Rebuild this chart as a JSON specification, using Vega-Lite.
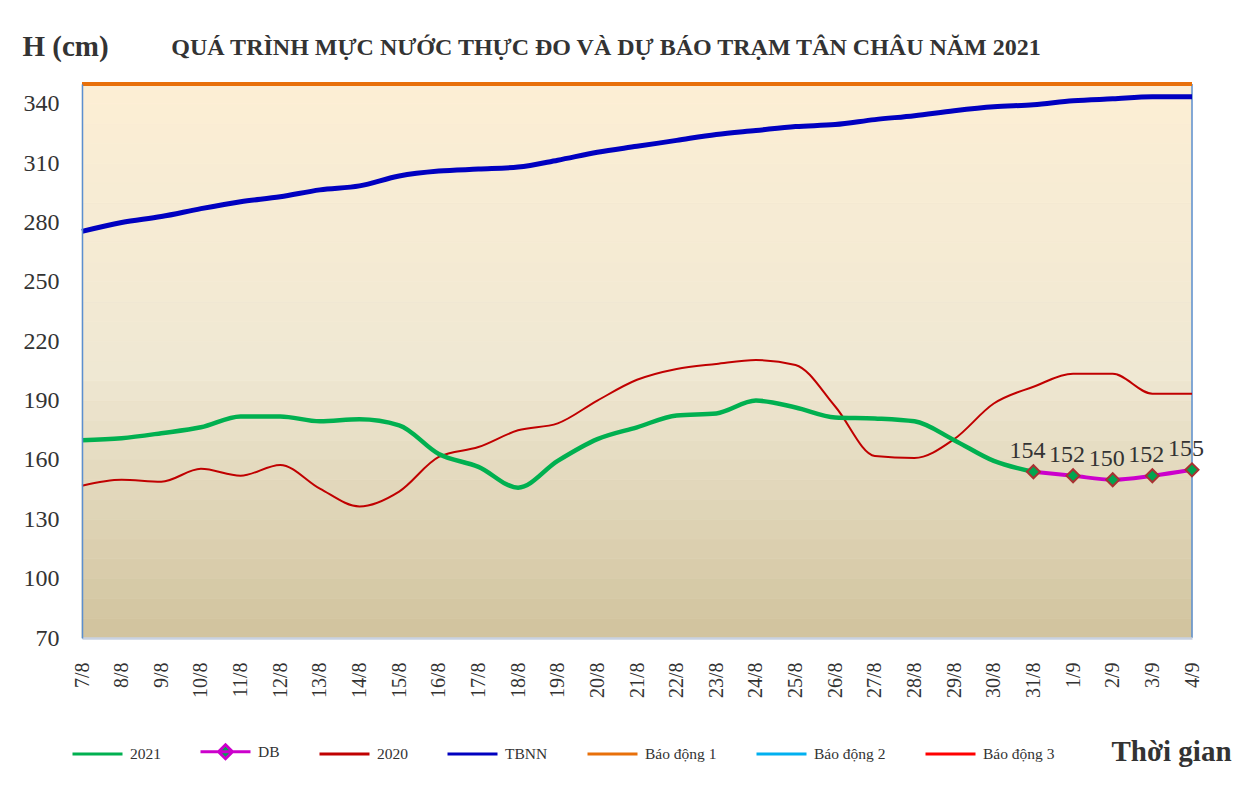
{
  "$schema": "https://vega.github.io/schema/vega-lite/v6.json",
  "width": 1110,
  "height": 554,
  "autosize": "none",
  "padding": {"left": 82, "top": 84, "right": 49, "bottom": 160},
  "background": "white",
  "config": {
    "font": "Liberation Serif",
    "view": {"stroke": null}
  },
  "title": {
    "text": "QUÁ TRÌNH MỰC NƯỚC THỰC ĐO VÀ DỰ BÁO TRẠM TÂN CHÂU NĂM 2021",
    "font": "Liberation Serif",
    "fontSize": 24,
    "fontWeight": "bold",
    "color": "#333333",
    "anchor": "middle",
    "dx": -31,
    "offset": -28
  },
  "datasets": {
    "levels": [
      {"date": "7/8", "series": "2021", "h": 170}, {"date": "8/8", "series": "2021", "h": 171}, {"date": "9/8", "series": "2021", "h": 173.5}, {"date": "10/8", "series": "2021", "h": 176.5}, {"date": "11/8", "series": "2021", "h": 182}, {"date": "12/8", "series": "2021", "h": 182}, {"date": "13/8", "series": "2021", "h": 179.5}, {"date": "14/8", "series": "2021", "h": 180.5}, {"date": "15/8", "series": "2021", "h": 177.5}, {"date": "16/8", "series": "2021", "h": 163}, {"date": "17/8", "series": "2021", "h": 156.5}, {"date": "18/8", "series": "2021", "h": 146}, {"date": "19/8", "series": "2021", "h": 159.5}, {"date": "20/8", "series": "2021", "h": 170.5}, {"date": "21/8", "series": "2021", "h": 176.5}, {"date": "22/8", "series": "2021", "h": 182.5}, {"date": "23/8", "series": "2021", "h": 183.5}, {"date": "24/8", "series": "2021", "h": 190}, {"date": "25/8", "series": "2021", "h": 186.5}, {"date": "26/8", "series": "2021", "h": 181.5}, {"date": "27/8", "series": "2021", "h": 181}, {"date": "28/8", "series": "2021", "h": 179.5}, {"date": "29/8", "series": "2021", "h": 170}, {"date": "30/8", "series": "2021", "h": 159.5}, {"date": "31/8", "series": "2021", "h": 154},
      {"date": "31/8", "series": "DB", "h": 154}, {"date": "1/9", "series": "DB", "h": 152}, {"date": "2/9", "series": "DB", "h": 150}, {"date": "3/9", "series": "DB", "h": 152}, {"date": "4/9", "series": "DB", "h": 155},
      {"date": "7/8", "series": "2020", "h": 147}, {"date": "8/8", "series": "2020", "h": 150}, {"date": "9/8", "series": "2020", "h": 149}, {"date": "10/8", "series": "2020", "h": 155.5}, {"date": "11/8", "series": "2020", "h": 152}, {"date": "12/8", "series": "2020", "h": 157.5}, {"date": "13/8", "series": "2020", "h": 145.5}, {"date": "14/8", "series": "2020", "h": 136.5}, {"date": "15/8", "series": "2020", "h": 144}, {"date": "16/8", "series": "2020", "h": 161.5}, {"date": "17/8", "series": "2020", "h": 166.5}, {"date": "18/8", "series": "2020", "h": 175}, {"date": "19/8", "series": "2020", "h": 178.5}, {"date": "20/8", "series": "2020", "h": 190}, {"date": "21/8", "series": "2020", "h": 200.5}, {"date": "22/8", "series": "2020", "h": 206}, {"date": "23/8", "series": "2020", "h": 208.5}, {"date": "24/8", "series": "2020", "h": 210.5}, {"date": "25/8", "series": "2020", "h": 208}, {"date": "26/8", "series": "2020", "h": 187}, {"date": "27/8", "series": "2020", "h": 162}, {"date": "28/8", "series": "2020", "h": 161}, {"date": "29/8", "series": "2020", "h": 170.5}, {"date": "30/8", "series": "2020", "h": 188.5}, {"date": "31/8", "series": "2020", "h": 197}, {"date": "1/9", "series": "2020", "h": 203.5}, {"date": "2/9", "series": "2020", "h": 203.5}, {"date": "3/9", "series": "2020", "h": 193.5}, {"date": "4/9", "series": "2020", "h": 193.5},
      {"date": "7/8", "series": "TBNN", "h": 275.5}, {"date": "8/8", "series": "TBNN", "h": 280}, {"date": "9/8", "series": "TBNN", "h": 283}, {"date": "10/8", "series": "TBNN", "h": 287}, {"date": "11/8", "series": "TBNN", "h": 290.5}, {"date": "12/8", "series": "TBNN", "h": 293}, {"date": "13/8", "series": "TBNN", "h": 296.5}, {"date": "14/8", "series": "TBNN", "h": 298.5}, {"date": "15/8", "series": "TBNN", "h": 303.5}, {"date": "16/8", "series": "TBNN", "h": 306}, {"date": "17/8", "series": "TBNN", "h": 307}, {"date": "18/8", "series": "TBNN", "h": 308}, {"date": "19/8", "series": "TBNN", "h": 311.5}, {"date": "20/8", "series": "TBNN", "h": 315.5}, {"date": "21/8", "series": "TBNN", "h": 318.5}, {"date": "22/8", "series": "TBNN", "h": 321.5}, {"date": "23/8", "series": "TBNN", "h": 324.5}, {"date": "24/8", "series": "TBNN", "h": 326.5}, {"date": "25/8", "series": "TBNN", "h": 328.5}, {"date": "26/8", "series": "TBNN", "h": 329.5}, {"date": "27/8", "series": "TBNN", "h": 332}, {"date": "28/8", "series": "TBNN", "h": 334}, {"date": "29/8", "series": "TBNN", "h": 336.5}, {"date": "30/8", "series": "TBNN", "h": 338.5}, {"date": "31/8", "series": "TBNN", "h": 339.5}, {"date": "1/9", "series": "TBNN", "h": 341.5}, {"date": "2/9", "series": "TBNN", "h": 342.5}, {"date": "3/9", "series": "TBNN", "h": 343.5}, {"date": "4/9", "series": "TBNN", "h": 343.5}
    ],
    "alarms": [
      {"series": "Báo động 1", "h": 350},
      {"series": "Báo động 2", "h": 400},
      {"series": "Báo động 3", "h": 450}
    ],
    "bands": [
      {"lo": 70, "hi": 80}, {"lo": 80, "hi": 90}, {"lo": 90, "hi": 100}, {"lo": 100, "hi": 110}, {"lo": 110, "hi": 120}, {"lo": 120, "hi": 130}, {"lo": 130, "hi": 140},
      {"lo": 140, "hi": 150}, {"lo": 150, "hi": 160}, {"lo": 160, "hi": 170}, {"lo": 170, "hi": 180}, {"lo": 180, "hi": 190}, {"lo": 190, "hi": 200}, {"lo": 200, "hi": 210},
      {"lo": 210, "hi": 220}, {"lo": 220, "hi": 230}, {"lo": 230, "hi": 240}, {"lo": 240, "hi": 250}, {"lo": 250, "hi": 260}, {"lo": 260, "hi": 270}, {"lo": 270, "hi": 280},
      {"lo": 280, "hi": 290}, {"lo": 290, "hi": 300}, {"lo": 300, "hi": 310}, {"lo": 310, "hi": 320}, {"lo": 320, "hi": 330}, {"lo": 330, "hi": 340}, {"lo": 340, "hi": 350}
    ],
    "edge": [{"date": "4/9"}]
  },
  "encoding": {
    "x": {
      "field": "date",
      "type": "ordinal",
      "scale": {"type": "point", "padding": 0, "domain": ["7/8","8/8","9/8","10/8","11/8","12/8","13/8","14/8","15/8","16/8","17/8","18/8","19/8","20/8","21/8","22/8","23/8","24/8","25/8","26/8","27/8","28/8","29/8","30/8","31/8","1/9","2/9","3/9","4/9"]},
      "axis": {
        "title": "Thời gian",
        "titleFont": "Liberation Serif",
        "titleFontSize": 29,
        "titleFontWeight": "bold",
        "titleColor": "#333333",
        "titleAlign": "left",
        "titleBaseline": "alphabetic",
        "titleAnchor": "start",
        "titleX": 1029,
        "titleY": 122,
        "labelAngle": -90,
        "labelFont": "Liberation Serif",
        "labelFontSize": 20,
        "labelColor": "#333333",
        "labelPadding": 24,
        "ticks": false,
        "grid": false,
        "domainColor": "#C8D2E2",
        "domainWidth": 2.5,
        "zindex": 1
      }
    },
    "y": {
      "field": "h",
      "type": "quantitative",
      "scale": {"domain": [70, 350], "nice": false, "zero": false},
      "axis": {
        "title": "H (cm)",
        "titleFont": "Liberation Serif",
        "titleFontSize": 29,
        "titleFontWeight": "bold",
        "titleColor": "#333333",
        "titleAngle": 0,
        "titleAlign": "left",
        "titleBaseline": "alphabetic",
        "titleX": -60,
        "titleY": -29,
        "values": [70, 100, 130, 160, 190, 220, 250, 280, 310, 340],
        "labelFont": "Liberation Serif",
        "labelFontSize": 24,
        "labelColor": "#333333",
        "labelPadding": 23,
        "ticks": false,
        "grid": false,
        "domainColor": "#5B8FD0",
        "domainWidth": 1.5,
        "zindex": 1
      }
    }
  },
  "layer": [
    {
      "data": {"name": "bands"},
      "mark": {"type": "rect", "strokeWidth": 0.8},
      "encoding": {
        "x": {"datum": "7/8"},
        "x2": {"datum": "4/9"},
        "y": {"field": "lo", "type": "quantitative"},
        "y2": {"field": "hi"},
        "fill": {"field": "lo", "type": "quantitative", "scale": {"domain": [70, 200, 340], "range": ["#D2C49F", "#EFE8D3", "#FCEED4"], "interpolate": "rgb"}, "legend": null},
        "stroke": {"field": "lo", "type": "quantitative", "scale": {"domain": [70, 200, 340], "range": ["#D2C49F", "#EFE8D3", "#FCEED4"], "interpolate": "rgb"}, "legend": null}
      }
    },
    {
      "data": {"name": "edge"},
      "mark": {"type": "rule", "color": "#5B8FD0", "strokeWidth": 1.5},
      "encoding": {"x": {"field": "date", "type": "ordinal"}, "y": null}
    },
    {
      "data": {"name": "alarms"},
      "transform": [{"filter": "datum.h <= 350"}],
      "mark": {"type": "rule", "strokeWidth": 4},
      "encoding": {
        "x": null,
        "y": {"field": "h", "type": "quantitative"},
        "color": {"field": "series", "type": "nominal"}
      }
    },
    {
      "data": {"name": "alarms"},
      "transform": [{"filter": "datum.h > 350"}],
      "mark": {"type": "rule", "strokeWidth": 3, "clip": true},
      "encoding": {
        "x": null,
        "y": {"field": "h", "type": "quantitative"},
        "color": {"field": "series", "type": "nominal"}
      }
    },
    {
      "data": {"name": "levels"},
      "transform": [{"filter": "datum.series === 'TBNN'"}],
      "mark": {"type": "line", "strokeWidth": 5, "interpolate": "monotone"},
      "encoding": {"color": {"field": "series", "type": "nominal"}}
    },
    {
      "data": {"name": "levels"},
      "transform": [{"filter": "datum.series === '2020'"}],
      "mark": {"type": "line", "strokeWidth": 2, "interpolate": "monotone"},
      "encoding": {"color": {"field": "series", "type": "nominal"}}
    },
    {
      "data": {"name": "levels"},
      "transform": [{"filter": "datum.series === '2021'"}],
      "mark": {"type": "line", "strokeWidth": 4.5, "interpolate": "monotone"},
      "encoding": {"color": {"field": "series", "type": "nominal"}}
    },
    {
      "data": {"name": "levels"},
      "transform": [{"filter": "datum.series === 'DB'"}],
      "mark": {"type": "line", "strokeWidth": 4, "interpolate": "monotone"},
      "encoding": {
        "color": {
          "field": "series",
          "type": "nominal",
          "scale": {
            "domain": ["2021", "DB", "2020", "TBNN", "Báo động 1", "Báo động 2", "Báo động 3"],
            "range": ["#00B050", "#CC00CC", "#C00000", "#0000C0", "#E8700A", "#00B0F0", "#FF0000"]
          },
          "legend": {
            "title": null,
            "orient": "none",
            "direction": "horizontal",
            "legendX": -11,
            "legendY": 641,
            "symbolType": "stroke",
            "symbolSize": 2500,
            "symbolStrokeWidth": 3,
            "labelFont": "Liberation Serif",
            "labelFontSize": 15.5,
            "labelColor": "#333333",
            "labelOffset": 6,
            "columnPadding": 33,
            "encode": {
              "symbols": {
                "update": {
                  "shape": {"signal": "datum.value === 'DB' ? 'M-1,0L1,0M0,-0.28L0.28,0L0,0.28L-0.28,0Z' : 'stroke'"},
                  "fill": {"signal": "datum.value === 'DB' ? '#00A550' : 'transparent'"}
                }
              }
            }
          }
        }
      }
    },
    {
      "data": {"name": "levels"},
      "transform": [{"filter": "datum.series === 'DB'"}],
      "mark": {"type": "point", "shape": "diamond", "size": 170, "filled": true, "fill": "#00A550", "stroke": "#A83232", "strokeWidth": 2, "opacity": 1}
    },
    {
      "data": {"name": "levels"},
      "transform": [{"filter": "datum.series === 'DB'"}],
      "mark": {"type": "text", "font": "Liberation Serif", "fontSize": 24, "color": "#333333", "dx": -6, "dy": -14, "baseline": "alphabetic", "align": "center"},
      "encoding": {"text": {"field": "h", "type": "quantitative"}}
    }
  ]
}
